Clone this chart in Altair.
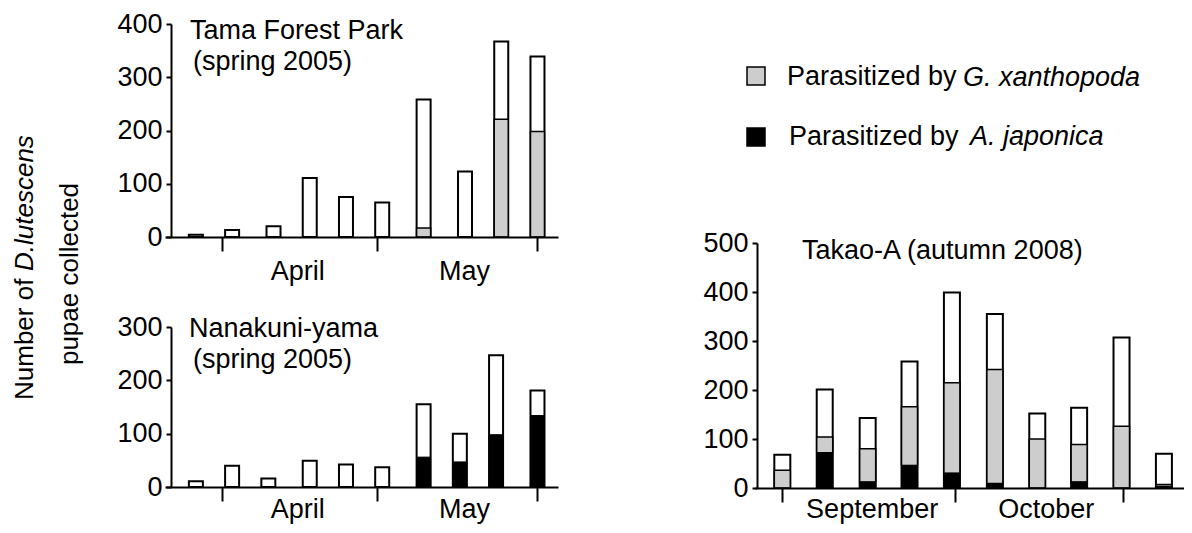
import altair as alt
import pandas as pd

FONT = "Liberation Sans"
FS = 27
GRAY = "#cdcdcd"

# ---- data ----
# Tama Forest Park (spring 2005): day = days after 1 March
tama_day = [26, 33, 41, 48, 55, 62, 70, 78, 85, 92]
tama_total = [4, 13, 20, 111, 75, 65, 258, 123, 367, 339]
tama_gx = [0, 0, 0, 0, 0, 0, 17, 0, 221, 198]
tama_aj = [0, 0, 0, 0, 0, 0, 0, 0, 0, 0]

# Nanakuni-yama (spring 2005)
nana_day = [26, 33, 40, 48, 55, 62, 70, 77, 84, 92]
nana_total = [11, 40, 16, 49, 42, 37, 155, 100, 247, 181]
nana_gx = [0, 0, 0, 0, 0, 0, 0, 0, 0, 0]
nana_aj = [0, 0, 0, 0, 0, 0, 56, 47, 98, 134]

# Takao-A (autumn 2008): day = days after 1 September
takao_day = [0, 7.6, 15.3, 22.8, 30.4, 38.1, 45.7, 53.2, 60.8, 68.4]
takao_total = [68, 201, 143, 258, 399, 355, 152, 164, 307, 70]
takao_gx = [36, 32, 68, 120, 185, 233, 100, 77, 126, 4]
takao_aj = [0, 72, 12, 46, 30, 9, 0, 12, 0, 3]

spring_months = ["April", "May"]
spring_month_day = [45.7, 77.9]
spring_ticks = [31, 61, 92]
autumn_months = ["September", "October"]
autumn_month_day = [16.1, 47.3]
autumn_ticks = [0, 31, 61]


def panel(day, total, gx, aj, xdom, xrng, ydom, yrng, yvals, xticks,
          xoff, yoff, barsize, months, month_day, month_y):
    df = pd.DataFrame({"day": day, "total": total, "gx": gx, "aj": aj})
    df["zero"] = 0
    base = alt.Chart(df).transform_calculate(gtop="datum.aj + datum.gx")
    xs = alt.Scale(domain=xdom, range=xrng, nice=False, zero=False)
    ys = alt.Scale(domain=ydom, range=yrng, nice=False, zero=False)
    xaxis = alt.Axis(orient="bottom", offset=xoff, values=xticks, labels=False,
                     tickSize=14, tickWidth=2, domainWidth=2, title=None,
                     grid=False, domainColor="black", tickColor="black", zindex=1)
    yaxis = alt.Axis(orient="left", offset=yoff, values=yvals, tickSize=5,
                     tickWidth=2, domainWidth=2, labelFontSize=FS,
                     labelFont=FONT, labelColor="black", labelPadding=4,
                     title=None, grid=False, domainColor="black",
                     tickColor="black", zindex=1)
    white = base.mark_bar(orient="vertical", size=barsize, fill="white",
                          stroke="black", strokeWidth=2).encode(
        x=alt.X("day:Q", scale=xs, axis=xaxis),
        y=alt.Y("total:Q", scale=ys, axis=yaxis),
        y2="zero:Q",
    )
    gray = base.transform_filter("datum.gx > 0").mark_bar(
        orient="vertical", size=barsize, fill=GRAY, stroke="black",
        strokeWidth=1.5).encode(x="day:Q", y="gtop:Q", y2="aj:Q")
    black = base.transform_filter("datum.aj > 0").mark_bar(
        orient="vertical", size=barsize, fill="black", stroke="black",
        strokeWidth=1).encode(x="day:Q", y="aj:Q", y2="zero:Q")
    mdf = pd.DataFrame({"m": months, "d": month_day})
    mlab = alt.Chart(mdf).mark_text(font=FONT, fontSize=FS, align="center",
                                    baseline="alphabetic", color="black").encode(
        x="d:Q", y=alt.value(month_y), text="m:N")
    return alt.layer(white, gray, black, mlab)


def label(text, x, y, italic=False, align="left", angle=0, size=FS):
    return alt.Chart(pd.DataFrame({"t": [text]})).mark_text(
        font=FONT, fontSize=size, align=align, baseline="alphabetic",
        fontStyle="italic" if italic else "normal", angle=angle,
        color="black").encode(x=alt.value(x), y=alt.value(y), text="t:N")


def swatch(fill, x, y, w, h):
    return alt.Chart(pd.DataFrame({"k": [fill]})).mark_rect(
        fill=fill, stroke="black", strokeWidth=1.5).encode(
        x=alt.value(x), x2=alt.value(x + w), y=alt.value(y), y2=alt.value(y + h))


p_tama = panel(tama_day, tama_total, tama_gx, tama_aj,
               [21, 95], [157, 550], [0, 400], [229, 16],
               [0, 100, 200, 300, 400], spring_ticks, -288, -163, 14,
               spring_months, spring_month_day, 272)
p_nana = panel(nana_day, nana_total, nana_gx, nana_aj,
               [21, 95], [157, 550], [0, 300], [479, 319],
               [0, 100, 200, 300], spring_ticks, -38, -163, 14,
               spring_months, spring_month_day, 510)
p_takao = panel(takao_day, takao_total, takao_gx, takao_aj,
                [-4, 72], [747, 1181], [0, 500], [480, 235],
                [0, 100, 200, 300, 400, 500], autumn_ticks, -37, -749, 16,
                autumn_months, autumn_month_day, 510)

annotations = [
    label("Tama Forest Park", 182, 31),
    label("(spring 2005)", 185, 62),
    label("Nanakuni-yama", 181, 329),
    label("(spring 2005)", 185, 360),
    label("Takao-A (autumn 2008)", 794, 251),
    # legend
    swatch(GRAY, 739, 59, 18, 18),
    label("Parasitized by", 779, 77),
    label("G. xanthopoda", 955, 78, italic=True),
    swatch("black", 739, 120, 18, 18),
    label("Parasitized by", 781, 137),
    label("A. japonica", 962, 137, italic=True),
    # y-axis title
    label("Number of", 25, 392, angle=270, size=26),
    label("D.lutescens", 25, 263, italic=True, angle=270, size=26),
    label("pupae collected", 70, 266, align="center", angle=270, size=26),
]

chart = alt.layer(p_tama, p_nana, p_takao, *annotations).resolve_scale(
    x="independent", y="independent"
).properties(
    width=1176, height=517, autosize=alt.AutoSizeParams(type="none"),
    padding=0, background="white"
).configure_view(stroke=None)

chart.save("out.html", embed_options={"renderer": "svg", "actions": False})
